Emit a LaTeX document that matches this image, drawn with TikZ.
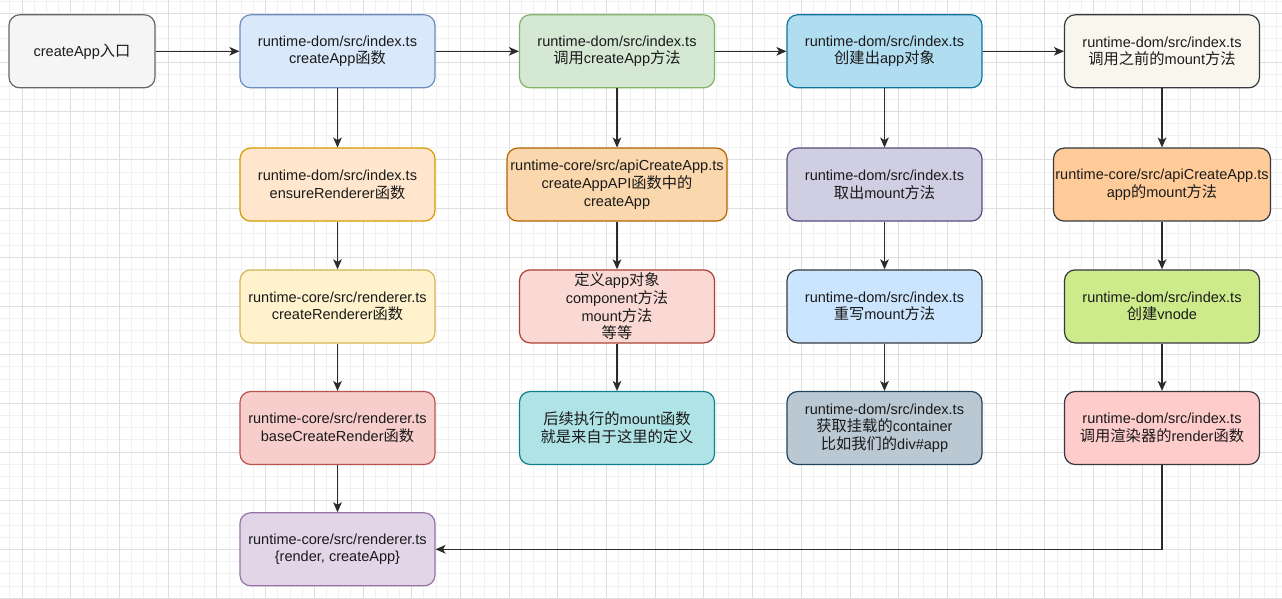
\documentclass[tikz,border=0pt]{standalone}
\usepackage{fontspec}
\setmainfont{Liberation Sans}
\newfontfamily\cjk[Scale=1.05]{Noto Sans CJK SC}
\newcommand\zh[1]{{\cjk #1}}
\usetikzlibrary{arrows.meta}
\definecolor{gminor}{HTML}{F1F1F1}
\definecolor{gmajor}{HTML}{DEDEDE}
\definecolor{txt}{HTML}{1A1A1A}
\definecolor{ln}{HTML}{2B2B2B}
\definecolor{fA0}{HTML}{F5F5F5}\definecolor{sA0}{HTML}{666666}
\definecolor{fA1}{HTML}{DAE8FC}\definecolor{sA1}{HTML}{6C8EBF}
\definecolor{fA2}{HTML}{FFE6CC}\definecolor{sA2}{HTML}{D79B00}
\definecolor{fA3}{HTML}{FFF2CC}\definecolor{sA3}{HTML}{D6B656}
\definecolor{fA4}{HTML}{F8CECC}\definecolor{sA4}{HTML}{B85450}
\definecolor{fA5}{HTML}{E1D5E7}\definecolor{sA5}{HTML}{9673A6}
\definecolor{fB1}{HTML}{D5E8D4}\definecolor{sB1}{HTML}{82B366}
\definecolor{fB2}{HTML}{FAD7AC}\definecolor{sB2}{HTML}{B46504}
\definecolor{fB3}{HTML}{FAD9D5}\definecolor{sB3}{HTML}{AE4132}
\definecolor{fB4}{HTML}{B0E3E6}\definecolor{sB4}{HTML}{0E8088}
\definecolor{fC1}{HTML}{B1DDF0}\definecolor{sC1}{HTML}{10739E}
\definecolor{fC2}{HTML}{D0CEE2}\definecolor{sC2}{HTML}{56517E}
\definecolor{fC3}{HTML}{CCE5FF}\definecolor{sDk}{HTML}{36393D}
\definecolor{fC4}{HTML}{BAC8D3}\definecolor{sC4}{HTML}{23445D}
\definecolor{fD1}{HTML}{F9F7ED}
\definecolor{fD2}{HTML}{FFCC99}
\definecolor{fD3}{HTML}{CDEB8B}
\definecolor{fD4}{HTML}{FFCCCC}
\tikzset{
  box/.style={draw, rounded corners=8pt, line width=0.9pt, minimum width=146.25pt, minimum height=54.75pt, inner sep=0pt, align=center, text=txt, font=\fontsize{10.9}{13.3}\selectfont},
  wide/.style={minimum width=165pt},
  wide2/.style={minimum width=162.75pt},
  conn/.style={draw=ln, line width=0.8pt, -{Stealth[length=7.5pt,width=6.5pt,inset=2pt]}},
}
\begin{document}
\begin{tikzpicture}[x=0.75pt,y=-0.75pt]
\useasboundingbox (0,0) rectangle (1282,599);
\fill[white] (0,0) rectangle (1282,599);
% grid
\foreach \i in {-2,...,106} {
  \pgfmathsetmacro\xx{22+12.175*\i}
  \draw[gminor, line width=0.5pt] (\xx,0) -- (\xx,599);
}
\foreach \j in {-2,...,50} {
  \pgfmathsetmacro\yy{13.7+12.175*\j}
  \draw[gminor, line width=0.5pt] (0,\yy) -- (1282,\yy);
}
\foreach \i in {-1,...,27} {
  \pgfmathsetmacro\xx{22+48.7*\i}
  \draw[gmajor, line width=0.6pt] (\xx,0) -- (\xx,599);
}
\foreach \j in {-1,...,13} {
  \pgfmathsetmacro\yy{13.7+48.7*\j}
  \draw[gmajor, line width=0.6pt] (0,\yy) -- (1282,\yy);
}
% nodes
\node[box, fill=fA0, draw=sA0, minimum width=109.5pt] (a0) at (82,51.3) {createApp\zh{入口}};
\node[box, fill=fA1, draw=sA1] (a1) at (337.5,51.3) {runtime-dom/src/index.ts\\createApp\zh{函数}};
\node[box, fill=fA2, draw=sA2] (a2) at (337.5,184.6) {runtime-dom/src/index.ts\\ensureRenderer\zh{函数}};
\node[box, fill=fA3, draw=sA3] (a3) at (337.5,306.4) {runtime-core/src/renderer.ts\\createRenderer\zh{函数}};
\node[box, fill=fA4, draw=sA4] (a4) at (337.5,428) {runtime-core/src/renderer.ts\\baseCreateRender\zh{函数}};
\node[box, fill=fA5, draw=sA5] (a5) at (337.5,549.3) {runtime-core/src/renderer.ts\\\{render, createApp\}};

\node[box, fill=fB1, draw=sB1] (b1) at (617,51.3) {runtime-dom/src/index.ts\\\zh{调用}createApp\zh{方法}};
\node[box, fill=fB2, draw=sB2, wide] (b2) at (617,184.6) {runtime-core/src/apiCreateApp.ts\\createAppAPI\zh{函数中的}\\createApp};
\node[box, fill=fB3, draw=sB3] (b3) at (617,306.4) {\zh{定义}app\zh{对象}\\component\zh{方法}\\mount\zh{方法}\\\zh{等等}};
\node[box, fill=fB4, draw=sB4] (b4) at (617,428) {\zh{后续执行的}mount\zh{函数}\\\zh{就是来自于这里的定义}};

\node[box, fill=fC1, draw=sC1] (c1) at (884.5,51.3) {runtime-dom/src/index.ts\\\zh{创建出}app\zh{对象}};
\node[box, fill=fC2, draw=sC2] (c2) at (884.5,184.6) {runtime-dom/src/index.ts\\\zh{取出}mount\zh{方法}};
\node[box, fill=fC3, draw=sDk] (c3) at (884.5,306.4) {runtime-dom/src/index.ts\\\zh{重写}mount\zh{方法}};
\node[box, fill=fC4, draw=sC4] (c4) at (884.5,428) {runtime-dom/src/index.ts\\\zh{获取挂载的}container\\\zh{比如我们的}div\#app};

\node[box, fill=fD1, draw=sDk] (d1) at (1162,51.3) {runtime-dom/src/index.ts\\\zh{调用之前的}mount\zh{方法}};
\node[box, fill=fD2, draw=sDk, wide2] (d2) at (1162,184.6) {runtime-core/src/apiCreateApp.ts\\app\zh{的}mount\zh{方法}};
\node[box, fill=fD3, draw=sDk] (d3) at (1162,306.4) {runtime-dom/src/index.ts\\\zh{创建}vnode};
\node[box, fill=fD4, draw=sDk] (d4) at (1162,428) {runtime-dom/src/index.ts\\\zh{调用渲染器的}render\zh{函数}};

% connectors
\draw[conn] (a0) -- (a1);
\draw[conn] (a1) -- (b1);
\draw[conn] (b1) -- (c1);
\draw[conn] (c1) -- (d1);
\draw[conn] (a1) -- (a2);
\draw[conn] (a2) -- (a3);
\draw[conn] (a3) -- (a4);
\draw[conn] (a4) -- (a5);
\draw[conn] (b1) -- (b2);
\draw[conn] (b2) -- (b3);
\draw[conn] (b3) -- (b4);
\draw[conn] (c1) -- (c2);
\draw[conn] (c2) -- (c3);
\draw[conn] (c3) -- (c4);
\draw[conn] (d1) -- (d2);
\draw[conn] (d2) -- (d3);
\draw[conn] (d3) -- (d4);
\draw[conn] (d4.south) |- (a5.east);
\end{tikzpicture}
\end{document}
